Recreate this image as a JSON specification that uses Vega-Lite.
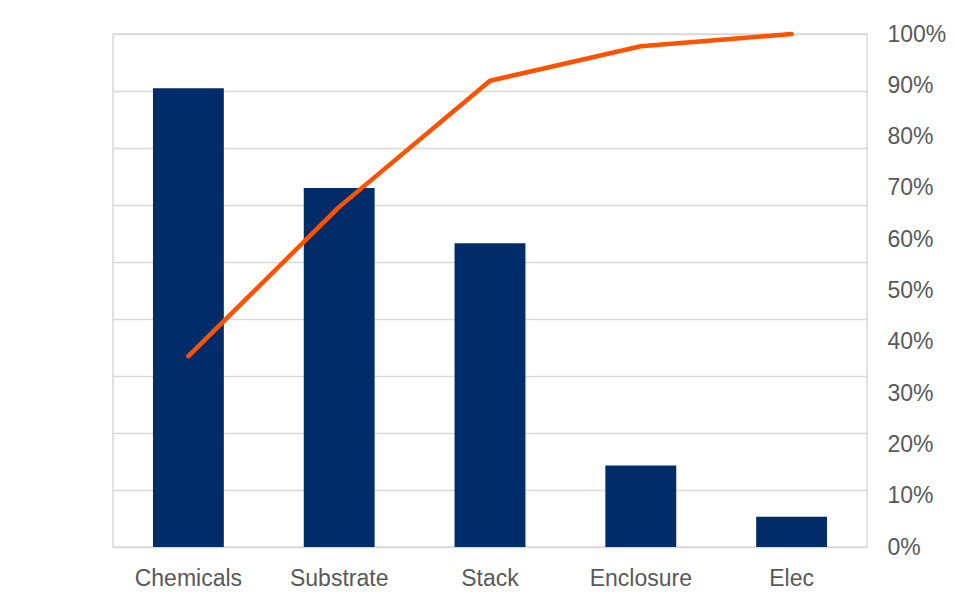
{
  "$schema": "https://vega.github.io/schema/vega-lite/v6.json",
  "autosize": {"type": "none"},
  "padding": {"left": 113, "top": 34, "right": 89, "bottom": 56},
  "width": 754,
  "height": 513,
  "background": "white",
  "config": {
    "view": {"stroke": "#d9d9d9", "strokeWidth": 1.5},
    "font": "Liberation Sans",
    "axis": {
      "labelFont": "Liberation Sans",
      "labelColor": "#595959",
      "labelFontSize": 23,
      "ticks": false,
      "domain": false,
      "title": null
    }
  },
  "data": {
    "values": [
      {"category": "Chemicals", "count": 80.5, "cumulative": 0.372},
      {"category": "Substrate", "count": 63.0, "cumulative": 0.663},
      {"category": "Stack", "count": 53.3, "cumulative": 0.909},
      {"category": "Enclosure", "count": 14.3, "cumulative": 0.976},
      {"category": "Elec", "count": 5.3, "cumulative": 1.0}
    ]
  },
  "encoding": {
    "x": {
      "field": "category",
      "type": "nominal",
      "sort": null,
      "scale": {"paddingInner": 0.53, "paddingOuter": 0.265},
      "axis": {"labelAngle": 0, "labelPadding": 20, "grid": false}
    }
  },
  "layer": [
    {
      "mark": {"type": "bar", "color": "#002d69"},
      "encoding": {
        "y": {
          "field": "count",
          "type": "quantitative",
          "scale": {"domain": [0, 90], "nice": false},
          "axis": {
            "values": [0, 10, 20, 30, 40, 50, 60, 70, 80, 90],
            "labels": false,
            "grid": true,
            "gridColor": "#d9d9d9",
            "gridWidth": 1.5
          }
        }
      }
    },
    {
      "mark": {
        "type": "line",
        "color": "#ff5200",
        "strokeWidth": 4.5,
        "strokeCap": "round",
        "strokeJoin": "round"
      },
      "encoding": {
        "y": {
          "field": "cumulative",
          "type": "quantitative",
          "scale": {"domain": [0, 1], "nice": false},
          "axis": {
            "orient": "right",
            "values": [0, 0.1, 0.2, 0.3, 0.4, 0.5, 0.6, 0.7, 0.8, 0.9, 1.0],
            "format": ".0%",
            "grid": false,
            "labelPadding": 20
          }
        }
      }
    }
  ],
  "resolve": {"scale": {"y": "independent"}}
}
